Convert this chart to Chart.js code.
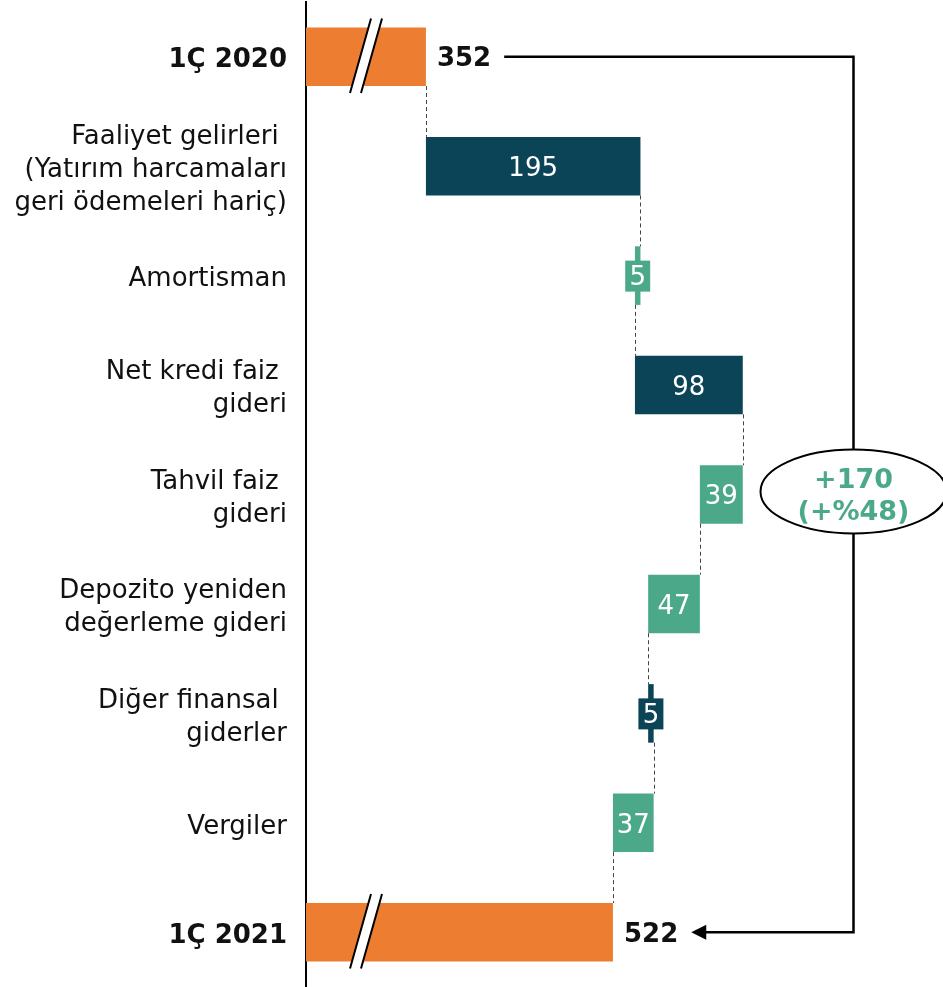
<!DOCTYPE html>
<html>
<head>
<meta charset="utf-8">
<script src="https://cdn.jsdelivr.net/npm/chart.js@4.4.0/dist/chart.umd.min.js"></script>
<style>
  html, body { margin: 0; padding: 0; background: #fff; }
  #wrap { width: 943px; height: 987px; position: relative; }
</style>
</head>
<body>
<div id="wrap"><canvas id="chart"></canvas></div>
<script>
// --- data ---
const categories = [
  '1Ç 2020',
  ['Faaliyet gelirleri ', '(Yatırım harcamaları', 'geri ödemeleri hariç)'],
  'Amortisman',
  ['Net kredi faiz ', 'gideri'],
  ['Tahvil faiz ', 'gideri'],
  ['Depozito yeniden', 'değerleme gideri'],
  ['Diğer finansal ', 'giderler'],
  'Vergiler',
  '1Ç 2021'
];
const startValue = 352;
const endValue = 522;
const changes = [195, -5, 98, -39, -47, 5, -37];
const axisMin = 243; // broken axis, totals drawn from here
const axisMax = 822;

const colors = {
  total: '#ED7D31',
  up: '#0B4457',
  down: '#4BA98A',
  text: '#111111'
};
const FONT = "'DejaVu Sans', Verdana, sans-serif";

// floating bars built from the arrays above
const ranges = [[axisMin, startValue]];
const totals = [startValue];
let run = startValue;
changes.forEach(c => {
  const next = run + c;
  ranges.push([Math.min(run, next), Math.max(run, next)]);
  totals.push(next);
  run = next;
});
ranges.push([axisMin, endValue]);
totals.push(endValue);

const barColors = ranges.map((r, i) => {
  if (i === 0 || i === ranges.length - 1) return colors.total;
  return changes[i - 1] > 0 ? colors.up : colors.down;
});

const overlay = {
  id: 'overlay',
  afterDatasetsDraw(chart) {
    const { ctx, chartArea, scales: { x } } = chart;
    const bars = chart.getDatasetMeta(0).data.map(b => b.getProps(['x', 'y', 'base', 'height'], true));
    const last = bars.length - 1;
    ctx.save();

    // dashed connectors
    ctx.strokeStyle = '#444';
    ctx.lineWidth = 1;
    ctx.setLineDash([4, 3]);
    for (let i = 0; i < last; i++) {
      const px = Math.round(x.getPixelForValue(totals[i])) + 0.5;
      ctx.beginPath();
      ctx.moveTo(px, bars[i].y + bars[i].height / 2);
      ctx.lineTo(px, bars[i + 1].y - bars[i + 1].height / 2);
      ctx.stroke();
    }
    ctx.setLineDash([]);

    // axis break marks on the total bars
    [0, last].forEach(i => {
      const b = bars[i];
      const top = b.y - b.height / 2 - 9, bot = b.y + b.height / 2 + 7;
      const x0 = chartArea.left + 44;
      ctx.beginPath();
      ctx.moveTo(x0, bot); ctx.lineTo(x0 + 21, top);
      ctx.lineTo(x0 + 32, top); ctx.lineTo(x0 + 11, bot);
      ctx.closePath();
      ctx.fillStyle = '#fff';
      ctx.fill();
      ctx.strokeStyle = '#000';
      ctx.lineWidth = 2;
      ctx.beginPath();
      ctx.moveTo(x0, bot); ctx.lineTo(x0 + 21, top);
      ctx.moveTo(x0 + 11, bot); ctx.lineTo(x0 + 32, top);
      ctx.stroke();
    });

    // labels inside change bars
    ctx.textAlign = 'center';
    ctx.textBaseline = 'middle';
    ctx.font = '26px ' + FONT;
    changes.forEach((c, k) => {
      const b = bars[k + 1];
      const cx = (b.x + b.base) / 2;
      if (Math.abs(c) < 10) {
        ctx.fillStyle = barColors[k + 1];
        ctx.fillRect(cx - 12.5, b.y - 15, 25, 31);
      }
      ctx.fillStyle = '#fff';
      ctx.fillText(String(Math.abs(c)), cx, b.y + 3);
    });

    // total labels
    ctx.font = 'bold 26px ' + FONT;
    ctx.fillStyle = colors.text;
    ctx.textAlign = 'left';
    const ends = [];
    [[0, startValue], [last, endValue]].forEach(([i, v]) => {
      const lx = bars[i].x + 11;
      ctx.fillText(String(v), lx, bars[i].y + 3);
      ends.push(lx + ctx.measureText(String(v)).width + 13);
    });

    // bracket arrow
    const vx = 853.5;
    ctx.strokeStyle = '#000';
    ctx.lineWidth = 2.5;
    ctx.beginPath();
    ctx.moveTo(ends[0], bars[0].y);
    ctx.lineTo(vx, bars[0].y);
    ctx.lineTo(vx, bars[last].y);
    ctx.lineTo(ends[1] + 12, bars[last].y);
    ctx.stroke();
    ctx.fillStyle = '#000';
    ctx.beginPath();
    ctx.moveTo(ends[1], bars[last].y);
    ctx.lineTo(ends[1] + 15, bars[last].y - 7.5);
    ctx.lineTo(ends[1] + 15, bars[last].y + 7.5);
    ctx.closePath();
    ctx.fill();

    // growth bubble
    const ey = bars[4].y - 3;
    ctx.beginPath();
    ctx.ellipse(vx, ey, 93, 42, 0, 0, Math.PI * 2);
    ctx.fillStyle = '#fff';
    ctx.fill();
    ctx.lineWidth = 2;
    ctx.stroke();
    const diff = endValue - startValue;
    const pct = Math.round(diff / startValue * 100);
    ctx.fillStyle = colors.down;
    ctx.textAlign = 'center';
    ctx.font = 'bold 27px ' + FONT;
    ctx.fillText('+' + diff, vx, ey - 11);
    ctx.fillText('(+%' + pct + ')', vx, ey + 21);

    ctx.restore();
  }
};

new Chart(document.getElementById('chart'), {
  type: 'bar',
  data: {
    labels: categories,
    datasets: [{
      data: ranges,
      backgroundColor: barColors,
      borderWidth: 0,
      barPercentage: 0.535,
      categoryPercentage: 1
    }]
  },
  options: {
    indexAxis: 'y',
    responsive: true,
    maintainAspectRatio: false,
    animation: false,
    layout: { padding: { top: 2, right: 0, bottom: 0, left: 0 } },
    plugins: {
      legend: { display: false },
      tooltip: { enabled: false }
    },
    scales: {
      x: {
        display: false,
        min: axisMin,
        max: axisMax
      },
      y: {
        afterFit(scale) {
          scale.width = 306;
          scale.paddingTop = 0;
          scale.paddingBottom = 0;
        },
        grid: { display: false, drawTicks: false },
        border: { display: true, color: '#000', width: 2 },
        ticks: {
          color: colors.text,
          padding: 19,
          labelOffset: 4,
          font: c => ({
            family: FONT,
            size: 26,
            weight: (c.index === 0 || c.index === categories.length - 1) ? 'bold' : 'normal',
            lineHeight: 1.27
          })
        }
      }
    }
  },
  plugins: [overlay]
});
</script>
</body>
</html>
